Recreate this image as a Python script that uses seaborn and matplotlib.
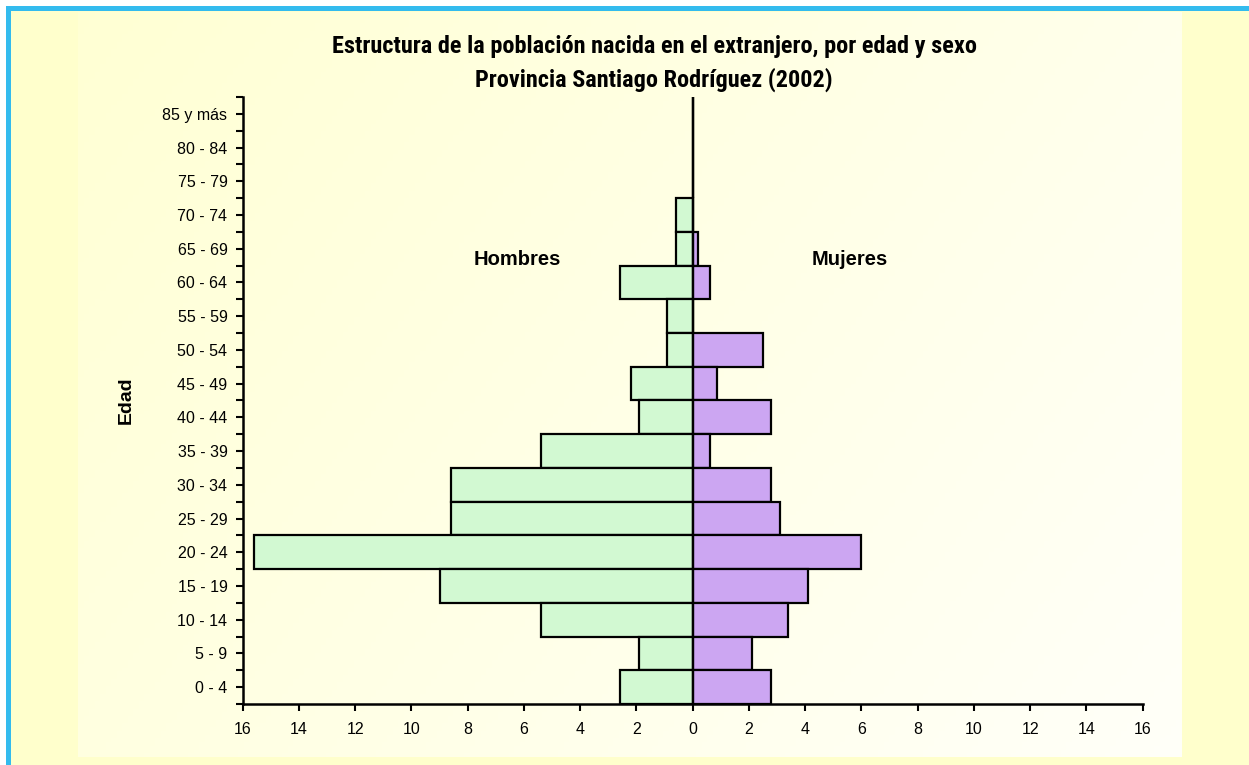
"""
Pirámide de población nacida en el extranjero, Provincia Santiago Rodríguez (2002).
"""

import matplotlib
matplotlib.use("Agg")
import matplotlib.pyplot as plt
from matplotlib.patches import Rectangle
from matplotlib.ticker import FixedLocator
import numpy as np
import pandas as pd
import seaborn as sns

# Data (percent of foreign-born population)
ages = ["0 - 4", "5 - 9", "10 - 14", "15 - 19", "20 - 24", "25 - 29",
        "30 - 34", "35 - 39", "40 - 44", "45 - 49", "50 - 54", "55 - 59",
        "60 - 64", "65 - 69", "70 - 74", "75 - 79", "80 - 84", "85 y más"]
hombres = [2.6, 1.9, 5.4, 9.0, 15.6, 8.6, 8.6, 5.4, 1.9, 2.2, 0.9, 0.9,
           2.6, 0.6, 0.6, 0.0, 0.0, 0.0]
mujeres = [2.8, 2.1, 3.4, 4.1, 6.0, 3.1, 2.8, 0.6, 2.8, 0.85, 2.5, 0.0,
           0.6, 0.2, 0.0, 0.0, 0.0, 0.0]
x_ticks = list(range(-16, 17, 2))

sns.set_theme(style="white")
plt.rcParams["font.family"] = ["Liberation Sans", "DejaVu Sans"]
plt.rcParams["text.color"] = "black"
plt.rcParams["xtick.color"] = "black"
plt.rcParams["ytick.color"] = "black"
plt.rcParams["axes.labelcolor"] = "black"
narrow = ["Roboto Condensed", "Lato", "DejaVu Sans"]

W, H = 1249, 765
fig = plt.figure(figsize=(W / 100, H / 100), dpi=100, facecolor="white")


def px(x0, y0, x1, y1):
    """pixel box (top-left origin) -> figure fraction rect"""
    return (x0 / W, 1 - y1 / H, (x1 - x0) / W, (y1 - y0) / H)


# outer frame: blue border on left/top, pale yellow fill
for (x0, y0, x1, y1), c in [((6, 6, W, H), "#33BBEE"),
                            ((11, 11, W, H), "#FFFFCC")]:
    l, b, w, h = px(x0, y0, x1, y1)
    fig.patches.append(Rectangle((l, b), w, h, transform=fig.transFigure,
                                 facecolor=c, edgecolor="none", zorder=-10))

# inner panel with soft gradient
bg = fig.add_axes(px(78, 12, 1182, 757), zorder=-5)
gx, gy = np.meshgrid(np.linspace(0, 1, 200), np.linspace(0, 1, 200))
t = np.clip(0.65 * gx + 0.35 * gy, 0, 1)
c0 = np.array([1.0, 1.0, 0.83])
c1 = np.array([1.0, 1.0, 0.975])
img = c0[None, None, :] * (1 - t[..., None]) + c1[None, None, :] * t[..., None]
bg.imshow(img, aspect="auto", extent=(0, 1, 0, 1))
bg.set_axis_off()

# main axes
ax = fig.add_axes(px(242.7, 97, 1142.7, 704))
ax.set_facecolor("none")

df = pd.DataFrame({
    "edad": ages * 2,
    "valor": [-v for v in hombres] + mujeres,
    "sexo": ["Hombres"] * len(ages) + ["Mujeres"] * len(ages),
})
sns.barplot(data=df, x="valor", y="edad", hue="sexo", order=ages[::-1],
            hue_order=["Hombres", "Mujeres"], orient="h", dodge=False,
            palette={"Hombres": "#CCFFCC", "Mujeres": "#CC99FF"},
            width=1.0, edgecolor="black", linewidth=1.6, legend=False, ax=ax)

ax.axvline(0, color="black", linewidth=1.6, zorder=5)
ax.set_xlim(-16, 16)
ax.set_ylim(len(ages) - 0.5, -0.5)

ax.set_xticks(x_ticks)
ax.set_xticklabels([str(abs(v)) for v in x_ticks], fontsize=11.5)
ax.yaxis.set_minor_locator(FixedLocator(np.arange(-0.5, len(ages), 1)))
ax.tick_params(axis="y", which="major", labelsize=11.5, length=5, width=1.5,
               direction="out", pad=6, left=True)
ax.tick_params(axis="y", which="minor", length=5, width=1.5, left=True)
ax.tick_params(axis="x", length=5, width=1.5, direction="out", pad=8,
               bottom=True)
ax.set_xlabel("")
ax.set_ylabel("Edad", fontsize=14, fontweight="bold", labelpad=20)
for s in ["top", "right"]:
    ax.spines[s].set_visible(False)
for s in ["left", "bottom"]:
    ax.spines[s].set_linewidth(1.8)
    ax.spines[s].set_color("black")

ax.text(0.305, 0.733, "Hombres", transform=ax.transAxes, ha="center",
        va="center", fontsize=14.5, fontweight="bold", color="black")
ax.text(0.675, 0.733, "Mujeres", transform=ax.transAxes, ha="center",
        va="center", fontsize=14.5, fontweight="bold", color="black")

fig.text(654 / W, 1 - 46 / H,
         "Estructura de la población nacida en el extranjero, por edad y sexo",
         ha="center", va="center", fontsize=17.5, fontweight="bold",
         family=narrow)
fig.text(654 / W, 1 - 80 / H, "Provincia Santiago Rodríguez (2002)",
         ha="center", va="center", fontsize=17.5, fontweight="bold",
         family=narrow)

fig.savefig("out.png", dpi=100, facecolor=fig.get_facecolor())
